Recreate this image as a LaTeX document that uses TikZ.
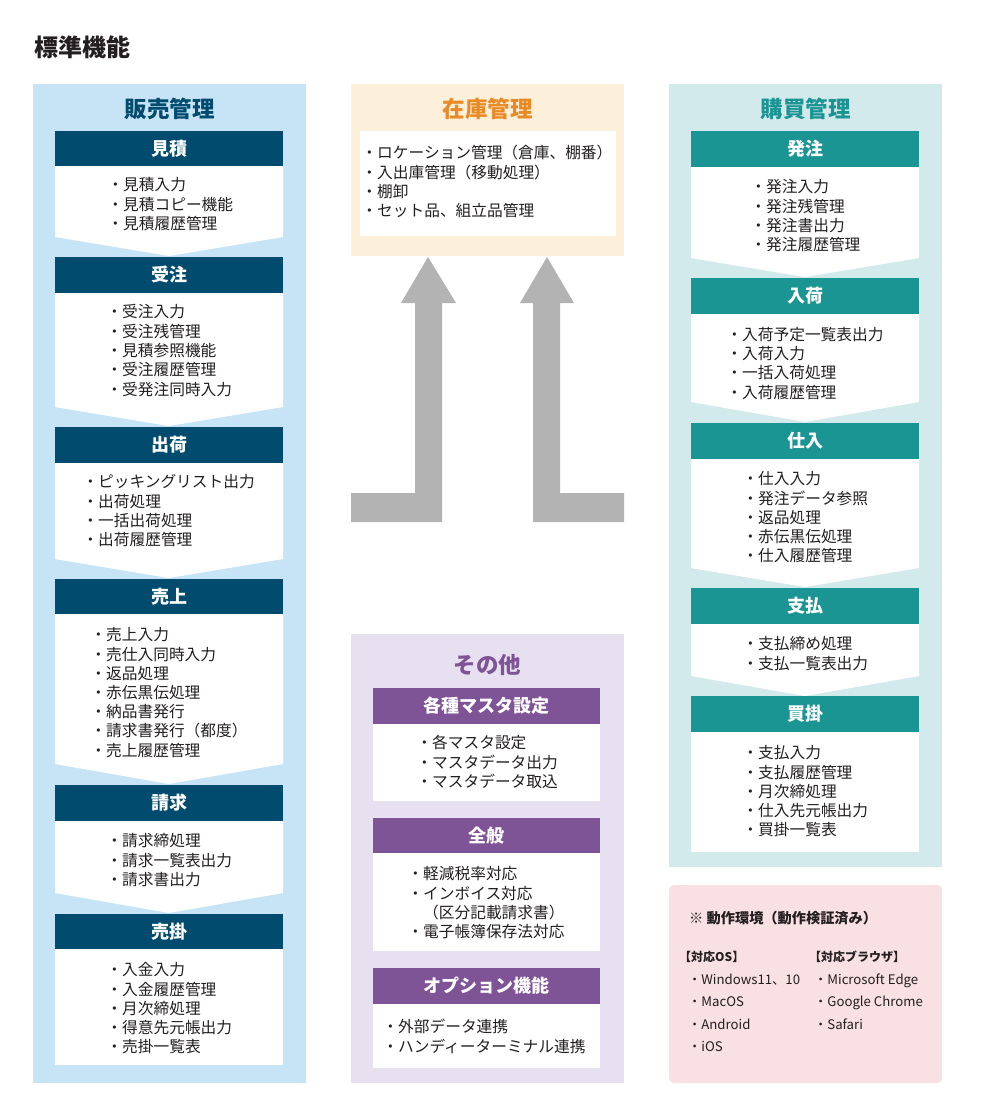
\documentclass[tikz,border=0pt]{standalone}
\usepackage{fontspec}
\setmainfont{Noto Sans CJK JP}
\definecolor{bgblue}{HTML}{C7E4F6}
\definecolor{navy}{HTML}{004B6E}
\definecolor{cream}{HTML}{FDF0DA}
\definecolor{orng}{HTML}{EA8A25}
\definecolor{bgteal}{HTML}{D2EAEB}
\definecolor{teal2}{HTML}{1B9494}
\definecolor{lav}{HTML}{E6E0F0}
\definecolor{purp}{HTML}{7F5497}
\definecolor{pinkbg}{HTML}{F9E0E3}
\definecolor{arrgray}{HTML}{B3B3B3}
\definecolor{txt}{HTML}{231F20}
\newcommand\mychev[5]{\fill[white] (#1,#3) -- (#2,#3) -- (#2,#4) -- ({(#1+#2)/2},#5) -- (#1,#4) -- cycle;}
\newcommand\mylist[5]{\foreach \t [count=\i from 0] in {#5} {\node[item] (#1\i) at (#2,{#3+#4*\i}) {・\t};}}
\begin{document}
\begin{tikzpicture}[x=1pt,y=-1pt,
  hdr/.style={minimum width=228pt,minimum height=35.5pt,inner sep=0,text=white,
    font=\fontsize{18}{20}\selectfont\bfseries,text height=15.8pt,text depth=2.2pt},
  ttl/.style={inner sep=0,font=\fontsize{22.5}{24}\selectfont\bfseries,text height=19.8pt,text depth=2.7pt},
  item/.style={anchor=west,inner sep=0,text=txt,font=\fontsize{15.7}{19}\selectfont,
    text height=13.8pt,text depth=1.9pt},
  sitem/.style={anchor=west,inner sep=0,text=txt,font=\fontsize{13.2}{15}\selectfont,
    text height=11.6pt,text depth=1.6pt},
  shead/.style={anchor=west,inner sep=0,text=txt,font=\fontsize{12}{14}\selectfont\bfseries,
    text height=10.6pt,text depth=1.4pt}]
\useasboundingbox (0,0) rectangle (1000,1119);
\fill[white] (0,0) rectangle (1000,1119);
% title
\node[ttl,anchor=west,text=txt,font=\fontsize{24}{26}\selectfont\bfseries] (main) at (34,48) {標準機能};
% panels
\fill[bgblue] (33,84) rectangle (306,1083);
\fill[cream] (351,84) rectangle (624,256);
\fill[lav] (351,634) rectangle (624,1083);
\fill[bgteal] (669,84) rectangle (942,867);
\fill[pinkbg,rounded corners=5pt] (669,885) rectangle (942,1083);
% arrows
\fill[arrgray] (351,493) -- (415,493) -- (415,303) -- (401,303) -- (428,257) -- (456,303) -- (442,303) -- (442,522) -- (351,522) -- cycle;
\fill[arrgray] (624,493) -- (560,493) -- (560,303) -- (574,303) -- (547,257) -- (520,303) -- (533,303) -- (533,522) -- (624,522) -- cycle;
% panel titles
\node[ttl,text=navy] (tsales) at (169.5,109) {販売管理};
\node[ttl,text=orng] (tstock) at (487.5,109) {在庫管理};
\node[ttl,text=teal2] (tbuy) at (805.5,109) {購買管理};
\node[ttl,text=purp] (tother) at (487.5,665) {その他};
% left white boxes
\mychev{55}{283}{166}{237}{256}
\mychev{55}{283}{293}{407}{426}
\mychev{55}{283}{463}{559}{578}
\mychev{55}{283}{614}{764}{784}
\mychev{55}{283}{821}{893}{913}
\fill[white] (55,949) rectangle (283,1065);
% right white boxes
\mychev{691}{919}{167}{258}{277}
\mychev{691}{919}{314}{402}{422}
\mychev{691}{919}{459}{568}{587}
\mychev{691}{919}{624}{676}{696}
\fill[white] (691,732) rectangle (919,852);
% middle white boxes
\fill[white] (360,131) rectangle (616,236);
\fill[white] (373,724) rectangle (600,801);
\fill[white] (373,853) rectangle (600,951);
\fill[white] (373,1004) rectangle (600,1068);
% left headers
\node[hdr,fill=navy] (h1) at (169,148.5) {見積};
\node[hdr,fill=navy] (h2) at (169,275) {受注};
\node[hdr,fill=navy] (h3) at (169,445) {出荷};
\node[hdr,fill=navy] (h4) at (169,596.5) {売上};
\node[hdr,fill=navy] (h5) at (169,803) {請求};
\node[hdr,fill=navy] (h6) at (169,931.5) {売掛};
% right headers
\node[hdr,fill=teal2] (r1) at (805,149) {発注};
\node[hdr,fill=teal2] (r2) at (805,296) {入荷};
\node[hdr,fill=teal2] (r3) at (805,441) {仕入};
\node[hdr,fill=teal2] (r4) at (805,606) {支払};
\node[hdr,fill=teal2] (r5) at (805,714) {買掛};
% middle headers
\node[hdr,fill=purp,minimum width=227pt] (o1) at (486.5,706) {各種マスタ設定};
\node[hdr,fill=purp,minimum width=227pt] (o2) at (486.5,835.5) {全般};
\node[hdr,fill=purp,minimum width=227pt] (o3) at (486.5,986) {オプション機能};
% left lists
\mylist{la}{107.3}{185}{19.4}{見積入力,見積コピー機能,見積履歴管理}
\mylist{lb}{106.3}{312}{19.3}{受注入力,受注残管理,見積参照機能,受注履歴管理,受発注同時入力}
\mylist{lc}{82.3}{482}{19.3}{ピッキングリスト出力,出荷処理,一括出荷処理,出荷履歴管理}
\mylist{ld}{90.3}{635}{19.2}{売上入力,売仕入同時入力,返品処理,赤伝黒伝処理,納品書発行,請求書発行（都度）,売上履歴管理}
\mylist{le}{106.3}{841}{19.2}{請求締処理,請求一覧表出力,請求書出力}
\mylist{lf}{106.3}{970}{19.2}{入金入力,入金履歴管理,月次締処理,得意先元帳出力,売掛一覧表}
% stock list
\mylist{sa}{361.3}{153}{19.3}{ロケーション管理（倉庫、棚番）,入出庫管理（移動処理）,棚卸,セット品、組立品管理}
% right lists
\mylist{ra}{750.3}{187}{19.2}{発注入力,発注残管理,発注書出力,発注履歴管理}
\mylist{rb}{726.3}{334.5}{19.2}{入荷予定一覧表出力,入荷入力,一括入荷処理,入荷履歴管理}
\mylist{rc}{742.3}{479}{19.2}{仕入入力,発注データ参照,返品処理,赤伝黒伝処理,仕入履歴管理}
\mylist{rd}{742.3}{644}{19.2}{支払締め処理,支払一覧表出力}
\mylist{re}{742.3}{753}{19.2}{支払入力,支払履歴管理,月次締処理,仕入先元帳出力,買掛一覧表}
% other lists
\mylist{oa}{416.3}{743}{19.3}{各マスタ設定,マスタデータ出力,マスタデータ取込}
\node[item] (ob0) at (407.3,874) {・軽減税率対応};
\node[item] (ob1) at (407.3,893.3) {・インボイス対応};
\node[item] (ob2) at (407.3,912.6) {　（区分記載請求書）};
\node[item] (ob3) at (407.3,931.9) {・電子帳簿保存法対応};
\mylist{oc}{382.3}{1027}{19.3}{外部データ連携,ハンディーターミナル連携}
% environment box
\node[anchor=west,inner sep=0,text=txt,font=\fontsize{14.2}{16}\selectfont\bfseries] (env) at (689,918) {※ 動作環境（動作検証済み）};
\node[shead] (osh) at (679,957) {【対応OS】};
\node[shead] (brh) at (809,957) {【対応ブラウザ】};
\node[sitem] (os0) at (688,979) {・Windows11、10};
\node[sitem] (os1) at (688,1001.6) {・MacOS};
\node[sitem] (os2) at (688,1024.2) {・Android};
\node[sitem] (os3) at (688,1046.8) {・iOS};
\node[sitem] (br0) at (814,979) {・Microsoft Edge};
\node[sitem] (br1) at (814,1001.6) {・Google Chrome};
\node[sitem] (br2) at (814,1024.2) {・Safari};
\end{tikzpicture}
\end{document}
